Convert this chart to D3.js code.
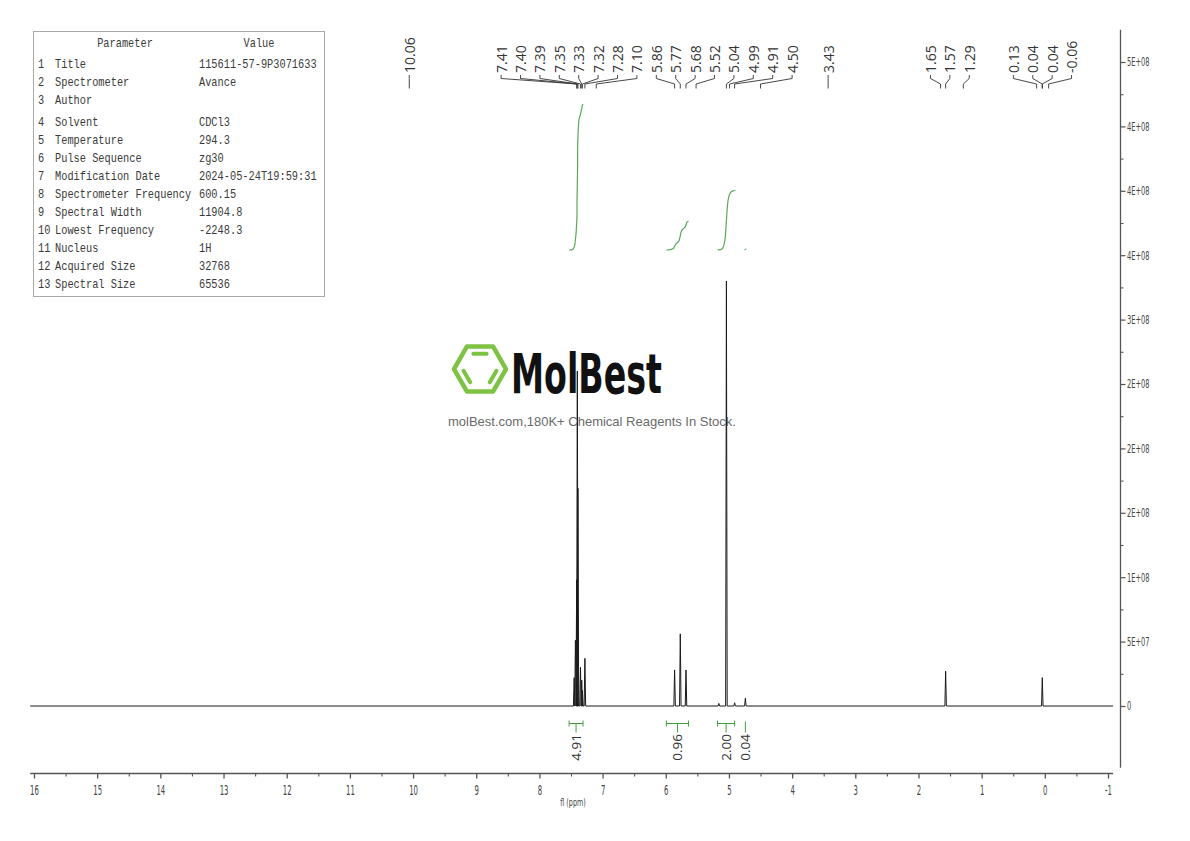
<!DOCTYPE html>
<html><head><meta charset="utf-8">
<script src="https://cdn.jsdelivr.net/npm/d3@7"></script>
<style>body{margin:0;background:#fff} svg{display:block}</style>
</head><body>
<svg id="c" width="1190" height="841"></svg>
<script>
// ---------------- data ----------------
const paramNames = ["Title","Spectrometer","Author","Solvent","Temperature","Pulse Sequence","Modification Date","Spectrometer Frequency","Spectral Width","Lowest Frequency","Nucleus","Acquired Size","Spectral Size"];
const paramValues = ["115611-57-9P3071633","Avance","","CDCl3","294.3","zg30","2024-05-24T19:59:31","600.15","11904.8","-2248.3","1H","32768","65536"];

// spectrum peaks (ppm, intensity)
const peakPpm    = [7.45, 7.43, 7.41, 7.40, 7.39, 7.35, 7.33, 7.32, 7.28, 5.86, 5.77, 5.68, 5.16, 5.04, 4.91, 4.74, 1.57, 0.04];
const peakHeight = [0.22e8, 0.51e8, 0.98e8, 2.6e8, 1.69e8, 0.30e8, 0.20e8, 0.12e8, 0.37e8, 0.28e8, 0.56e8, 0.28e8, 0.02e8, 3.3e8, 0.025e8, 0.06e8, 0.27e8, 0.22e8];
const spectrumWindow = [16.06, -1.08];

// peak pick labels
const labelPpm = [10.06,7.41,7.40,7.39,7.35,7.33,7.32,7.28,7.10,5.86,5.77,5.68,5.52,5.04,4.99,4.91,4.50,3.43,1.65,1.57,1.29,0.13,0.04,0.04,-0.06];

// integrals
const integFrom  = [7.53, 5.99, 5.18, 4.745];
const integTo    = [7.31, 5.64, 4.91, 4.735];
const integValue = [4.91, 0.96, 2.00, 0.04];

// axes
const xTickValues = [16,15,14,13,12,11,10,9,8,7,6,5,4,3,2,1,0,-1];
const xMinorValues = [15.5,14.5,13.5,12.5,11.5,10.5,9.5,8.5,7.5,6.5,5.5,4.5,3.5,2.5,1.5,0.5,-0.5];
const yTickValues = [0,0.5e8,1e8,1.5e8,2e8,2.5e8,3e8,3.5e8,4e8,4.5e8,5e8];
const yTickLabels = ["0","5E+07","1E+08","2E+08","2E+08","2E+08","3E+08","4E+08","4E+08","4E+08","5E+08"];
const yMinorValues = [0.25e8,0.75e8,1.25e8,1.75e8,2.25e8,2.75e8,3.25e8,3.75e8,4.25e8,4.75e8];
const yWindow = [-0.48e8, 5.25e8];

// ---------------- drawing ----------------
const svg = d3.select("#c");
const x = d3.scaleLinear().domain([16,-1]).range([34,1108]);
const y = d3.scaleLinear().domain([0,5e8]).range([706,62]);
const yInt = d3.scaleLinear().domain([0, integValue[0]]).range([250,104]);

const narrow = "'Liberation Sans Narrow','DejaVu Sans Condensed','Roboto Condensed','Liberation Sans',sans-serif";
const green = "#3f9f3f";

// --- parameter table ---
const tbl = svg.append("g");
tbl.append("rect").attr("x",33.5).attr("y",31.5).attr("width",291).attr("height",265)
  .attr("fill","none").attr("stroke","#aaa").attr("stroke-width",1);
const mono = "'Liberation Mono','DejaVu Sans Mono',monospace";
const sx = 0.86;
const tt = tbl.append("g").attr("transform",`scale(${sx},1)`).attr("font-family",mono).attr("font-size",12)
  .attr("fill","#3a3a3a").attr("dominant-baseline","central");
tt.append("text").attr("x",125/sx).attr("y",43.5).attr("text-anchor","middle").attr("dominant-baseline","central").text("Parameter");
tt.append("text").attr("x",259/sx).attr("y",43.5).attr("text-anchor","middle").attr("dominant-baseline","central").text("Value");
const rowY = i => 65 + 18*i + (i >= 3 ? 4 : 0);
paramNames.forEach((n,i) => {
  tt.append("text").attr("x",38/sx).attr("y",rowY(i)).attr("dominant-baseline","central").text(i+1);
  tt.append("text").attr("x",55/sx).attr("y",rowY(i)).attr("dominant-baseline","central").text(n);
  tt.append("text").attr("x",199/sx).attr("y",rowY(i)).attr("dominant-baseline","central").text(paramValues[i]);
});

// --- logo watermark ---
const logo = svg.append("g");
const hc = [480, 369], hr = 26;
const hexPts = d3.range(6).map(k => [hc[0] + hr*Math.cos(k*Math.PI/3), hc[1] + hr*Math.sin(k*Math.PI/3)]);
logo.append("path").attr("d", d3.line()(hexPts) + "Z").attr("fill","none")
  .attr("stroke","#7dc243").attr("stroke-width",4.5).attr("stroke-linejoin","round");
const ir = 17.5;
const inPts = d3.range(6).map(k => [hc[0] + ir*Math.cos(k*Math.PI/3), hc[1] + ir*Math.sin(k*Math.PI/3)]);
[[4,5],[2,3],[0,1]].forEach(([a,b]) => {
  const p = inPts[a], q = inPts[b], s = 0.12;
  logo.append("line")
    .attr("x1", p[0] + (q[0]-p[0])*s).attr("y1", p[1] + (q[1]-p[1])*s)
    .attr("x2", q[0] - (q[0]-p[0])*s).attr("y2", q[1] - (q[1]-p[1])*s)
    .attr("stroke","#7dc243").attr("stroke-width",4).attr("stroke-linecap","round");
});
logo.append("text").attr("x",511).attr("y",393).attr("font-family",narrow).attr("font-weight","bold")
  .attr("font-size",55).attr("textLength",151).attr("lengthAdjust","spacingAndGlyphs").attr("fill","#111").text("MolBest");
logo.append("text").attr("x",448).attr("y",425.5).attr("font-family","'Liberation Sans',Arial,sans-serif")
  .attr("font-size",13).attr("fill","#6a6a6a").text("molBest.com,180K+ Chemical Reagents In Stock.");

// --- spectrum ---
const peaks = peakPpm.map((p,i) => ({p, h: peakHeight[i]})).sort((a,b) => b.p - a.p);
const hw = 0.012;
const specPts = [[spectrumWindow[0], 0]];
peaks.forEach(pk => { specPts.push([pk.p + hw, 0], [pk.p, pk.h], [pk.p - hw, 0]); });
specPts.push([spectrumWindow[1], 0]);
svg.append("path").attr("d", d3.line().x(d => x(d[0])).y(d => y(d[1]))(specPts))
  .attr("fill","none").attr("stroke","#1a1a1a").attr("stroke-width",1);

// --- integrals ---
const ig = svg.append("g");
integValue.forEach((v,r) => {
  const inside = peaks.filter(pk => pk.p <= integFrom[r] && pk.p >= integTo[r]);
  const total = d3.sum(inside, d => d.h) || 1;
  let cum = 0;
  const pts = [[integFrom[r], 0]];
  inside.forEach(pk => { pts.push([pk.p + 0.01, cum]); cum += pk.h; pts.push([pk.p - 0.01, cum]); });
  pts.push([integTo[r], total]);
  ig.append("path")
    .attr("d", d3.line().curve(d3.curveBasis).x(d => x(d[0])).y(d => yInt(d[1]/total*v))(pts))
    .attr("fill","none").attr("stroke","#5aa85a").attr("stroke-width",1.2);
  // bracket under baseline
  const x1 = x(integFrom[r]), x2 = x(integTo[r]), xm = x((integFrom[r]+integTo[r])/2), by = 723.5;
  const wide = (x2 - x1) > 4;
  ig.append("path").attr("d", wide
      ? `M${x1},${by-3}V${by+3}M${x1},${by}H${x2}M${x2},${by-3}V${by+3}M${xm},${by}V${by+9}`
      : `M${xm},${by-2}V${by+9}`)
    .attr("fill","none").attr("stroke",green).attr("stroke-width",1);
  ig.append("text").attr("transform",`translate(${xm},734) rotate(-90)`).attr("text-anchor","end")
    .attr("dominant-baseline","central").attr("font-family","'Open Sans',sans-serif").attr("font-size",13.5)
    .attr("fill","#333").text(v.toFixed(2));
});

// --- peak labels with leader lines ---
const lab = labelPpm.map((p,i) => ({p, px: x(p), t: p.toFixed(2)})).sort((a,b) => a.px - b.px);
const gap = 19.4;
const pos = lab.map(d => d.px);
for (let it = 0; it < 2000; it++) {
  for (let i = 1; i < pos.length; i++) {
    const d = pos[i] - pos[i-1];
    if (d < gap) { const s = (gap - d)/2; pos[i] += s; pos[i-1] -= s; }
  }
}
const lg = svg.append("g");
lab.forEach((d,i) => {
  const lx = pos[i];
  lg.append("path").attr("d", `M${lx},75V78.5L${d.px},84V88.5`).attr("fill","none")
    .attr("stroke","#333").attr("stroke-width",0.9);
  lg.append("text").attr("transform",`translate(${lx},73) rotate(-90)`).attr("text-anchor","start")
    .attr("dominant-baseline","central").attr("font-family","'Open Sans',sans-serif").attr("font-size",14)
    .attr("fill","#333").text(d.t);
});

// --- bottom axis ---
const axY = 773.5;
svg.append("line").attr("x1", x(spectrumWindow[0])).attr("x2", x(spectrumWindow[1])).attr("y1",axY).attr("y2",axY)
  .attr("stroke","#555").attr("stroke-width",1.3);
const bx = svg.append("g").attr("transform",`translate(0,${axY})`)
  .call(d3.axisBottom(x).tickValues(xTickValues).tickSize(5).tickPadding(7).tickFormat(d => d));
bx.select(".domain").remove();
bx.selectAll("line").attr("stroke","#555").attr("stroke-width",1.3);
bx.selectAll("text").attr("font-family",narrow).attr("font-size",14).attr("fill","#444")
  .attr("transform","scale(0.55,1)");
const bm = svg.append("g").attr("transform",`translate(0,${axY})`)
  .call(d3.axisBottom(x).tickValues(xMinorValues).tickSize(3).tickFormat(""));
bm.select(".domain").remove();
bm.selectAll("line").attr("stroke","#555").attr("stroke-width",1.1);
svg.append("g").attr("transform","translate(573,806) scale(0.65,1)")
  .append("text").attr("text-anchor","middle").attr("font-family",narrow)
  .attr("font-size",11).attr("fill","#444").text("fl (ppm)");

// --- right axis ---
const axX = 1120.5;
svg.append("line").attr("x1",axX).attr("x2",axX).attr("y1", y(yWindow[1])).attr("y2", y(yWindow[0]))
  .attr("stroke","#555").attr("stroke-width",1.3);
const ry = svg.append("g").attr("transform",`translate(${axX},0)`)
  .call(d3.axisRight(y).tickValues(yTickValues).tickSize(5).tickFormat((d,i) => yTickLabels[i]));
ry.select(".domain").remove();
ry.selectAll("line").attr("stroke","#555").attr("stroke-width",1.2);
const ysx = 0.62;
ry.selectAll("text").attr("font-family",narrow).attr("font-size",12).attr("fill","#444")
  .attr("x", 6.5/ysx).attr("transform",`scale(${ysx},1)`);
const rm = svg.append("g").attr("transform",`translate(${axX},0)`)
  .call(d3.axisRight(y).tickValues(yMinorValues).tickSize(3).tickFormat(""));
rm.select(".domain").remove();
rm.selectAll("line").attr("stroke","#555").attr("stroke-width",1.1);
</script>
</body></html>
